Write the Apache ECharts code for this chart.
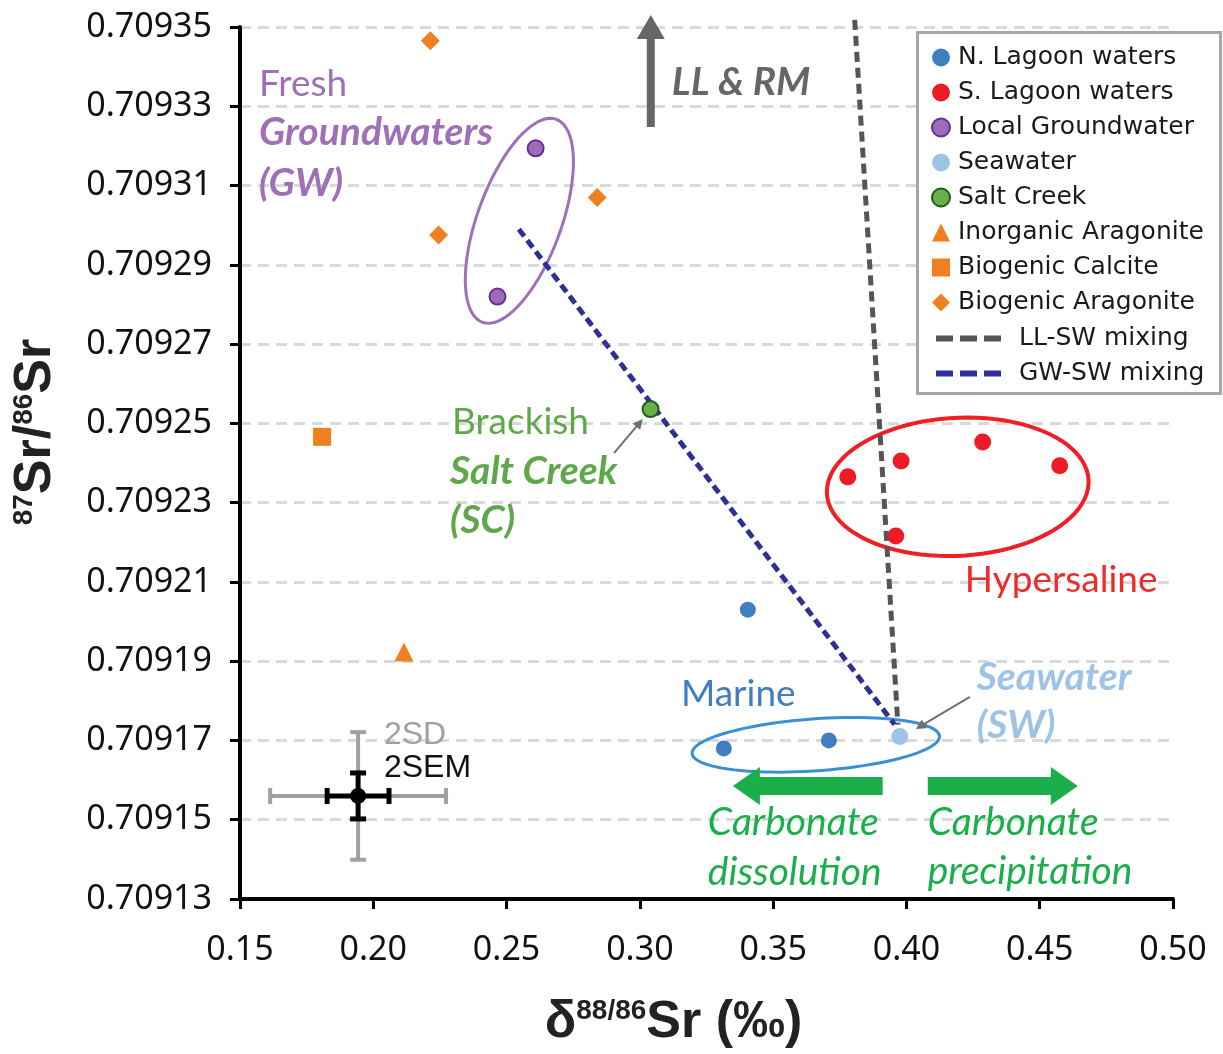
<!DOCTYPE html>
<html>
<head>
<meta charset="utf-8">
<script src="https://cdn.jsdelivr.net/npm/echarts@6/dist/echarts.min.js"></script>
<style>
  html, body { margin: 0; padding: 0; background: #ffffff; }
  #chart { width: 1223px; height: 1054px; }
</style>
</head>
<body>
<div id="chart"></div>
<script>
// Sample groups: [δ88/86Sr (‰), 87Sr/86Sr]
const nLagoon = [[0.3405, 0.709203], [0.3315, 0.709168], [0.3709, 0.709170]];
const sLagoon = [[0.3780, 0.7092365], [0.3980, 0.7092405], [0.4286, 0.7092453], [0.4575, 0.7092393], [0.3960, 0.7092216]];
const groundwater = [[0.2609, 0.7093194], [0.2466, 0.7092820]];
const seawater = [[0.3975, 0.7091710]];
const saltCreek = [[0.3040, 0.7092536]];
const inorganicAragonite = [[0.2115, 0.7091923]];
const biogenicCalcite = [[0.1808, 0.7092466]];
const biogenicAragonite = [[0.2214, 0.7093465], [0.2245, 0.7092975], [0.2840, 0.7093070]];

// Two-end-member mixing trends toward seawater
const llSwMixing = [[0.3806, 0.7093518], [0.3968, 0.7091740]];
const gwSwMixing = [[0.2546, 0.7092990], [0.3956, 0.7091740]];

// Typical analytical uncertainty (centre, 2SD and 2SEM half-widths)
const errCenter = [0.1943, 0.709156];
const err2SD = [0.0330, 0.0000161];
const err2SEM = [0.0116, 0.0000058];

// Axis ranges
const xRange = [0.15, 0.50, 0.05];
const yRange = [0.70913, 0.70935, 0.00002];

// Group outlines (centre in data units, semi-axes in px, tilt in degrees)
const outlines = [
  { center: [0.2548, 0.7093011], rx: 108, ry: 42, angle: 70, color: '#9F6FB8', width: 3 },
  { center: [0.41925, 0.7092340], rx: 131, ry: 69, angle: 3, color: '#EE2024', width: 4 },
  { center: [0.3660, 0.7091689], rx: 124, ry: 26, angle: 4, color: '#3A8FD6', width: 3 }
];

// Arrows (tail -> tip in data units)
const arrows = [
  { from: [0.3041, 0.7093248], to: [0.3041, 0.7093530], shaft: 4, head: 14, headLen: 24, color: '#666666' },
  { from: [0.3911, 0.7091585], to: [0.3349, 0.7091585], shaft: 9, head: 19, headLen: 27, color: '#1AAF4B' },
  { from: [0.4080, 0.7091585], to: [0.4643, 0.7091585], shaft: 9, head: 19, headLen: 27, color: '#1AAF4B' },
  { from: [0.2903, 0.7092425], to: [0.3011, 0.7092511], shaft: 1, head: 5, headLen: 10, color: '#707070' },
  { from: [0.4238, 0.7091810], to: [0.4035, 0.7091729], shaft: 1, head: 5, headLen: 10, color: '#707070' }
];

const REG = '37px Lato';
const BI = 'italic bold 39px Lato';
const IT = 'italic 39px Lato';
const notes = [
  { text: 'Fresh', at: [0.1571, 0.7093356], font: REG, color: '#9F6FB8' },
  { text: 'Groundwaters', at: [0.1571, 0.7093233], font: BI, color: '#9F6FB8' },
  { text: '(GW)', at: [0.1571, 0.7093106], font: BI, color: '#9F6FB8' },
  { text: 'LL & RM', at: [0.3120, 0.7093359], font: BI, color: '#666666' },
  { text: 'Brackish', at: [0.2295, 0.7092504], font: REG, color: '#5FA84A' },
  { text: 'Salt Creek', at: [0.2288, 0.7092380], font: BI, color: '#5FA84A' },
  { text: '(SC)', at: [0.2288, 0.7092254], font: BI, color: '#5FA84A' },
  { text: 'Hypersaline', at: [0.4219, 0.7092105], font: REG, color: '#EE2A2A' },
  { text: 'Marine', at: [0.3154, 0.7091817], font: REG, color: '#3F7FBF' },
  { text: 'Seawater', at: [0.4264, 0.7091860], font: BI, color: '#9DC3E6' },
  { text: '(SW)', at: [0.4264, 0.7091737], font: BI, color: '#9DC3E6' },
  { text: 'Carbonate', at: [0.3255, 0.7091492], font: IT, color: '#1AAF4B' },
  { text: 'dissolution', at: [0.3255, 0.7091366], font: IT, color: '#1AAF4B' },
  { text: 'Carbonate', at: [0.4080, 0.7091494], font: IT, color: '#1AAF4B' },
  { text: 'precipitation', at: [0.4080, 0.7091370], font: IT, color: '#1AAF4B' },
  { text: '2SD', at: [0.2040, 0.7091714], font: '32px "Liberation Sans"', color: '#A0A0A0' },
  { text: '2SEM', at: [0.2040, 0.7091631], font: '32px "Liberation Sans"', color: '#111111' }
];

const chart = echarts.init(document.getElementById('chart'), null, { renderer: 'canvas' });

const titleFont = '"Liberation Sans Narrow", "Liberation Sans", Arial, sans-serif';
const tickFont = '"Noto Sans", "Open Sans", sans-serif';
const legendFont = '"DejaVu Sans", sans-serif';

function arrowPoints(t, p, a) {
  const dx = p[0] - t[0], dy = p[1] - t[1];
  const len = Math.sqrt(dx * dx + dy * dy) || 1;
  const ux = dx / len, uy = dy / len;
  const nx = -uy, ny = ux;
  const bx = p[0] - ux * a.headLen, by = p[1] - uy * a.headLen;
  return [
    [t[0] + nx * a.shaft, t[1] + ny * a.shaft],
    [bx + nx * a.shaft, by + ny * a.shaft],
    [bx + nx * a.head, by + ny * a.head],
    [p[0], p[1]],
    [bx - nx * a.head, by - ny * a.head],
    [bx - nx * a.shaft, by - ny * a.shaft],
    [t[0] - nx * a.shaft, t[1] - ny * a.shaft]
  ];
}

function scatter(name, data, symbol, size, fill, border, z) {
  return {
    name, type: 'scatter', data, symbol, symbolSize: size, z: z || 5,
    itemStyle: { color: fill, borderColor: border || fill, borderWidth: border ? 2 : 0, opacity: 1 },
    emphasis: { disabled: true }
  };
}

const option = {
  animation: false,
  backgroundColor: '#ffffff',
  grid: { left: 240, right: 50, top: 27, bottom: 155, containLabel: false },
  xAxis: {
    type: 'value', min: xRange[0], max: xRange[1], interval: xRange[2],
    axisLine: { show: true, onZero: false, lineStyle: { color: '#000', width: 4 } },
    axisTick: { show: true, inside: false, length: 10, lineStyle: { color: '#000', width: 3 } },
    axisLabel: { margin: 34, color: '#111', fontFamily: tickFont, fontSize: 34, formatter: v => v.toFixed(2) },
    splitLine: { show: false },
    name: '{d|δ}{s|88/86}{b|Sr (‰)}',
    nameLocation: 'middle', nameGap: 98,
    nameTextStyle: {
      padding: [0, 66, 0, 0],
      rich: {
        d: { fontFamily: titleFont, fontWeight: 'bold', fontSize: 52, color: '#222' },
        s: { fontFamily: titleFont, fontWeight: 'bold', fontSize: 28, color: '#222', verticalAlign: 'top' },
        b: { fontFamily: titleFont, fontWeight: 'bold', fontSize: 52, color: '#222' }
      }
    }
  },
  yAxis: {
    type: 'value', min: yRange[0], max: yRange[1], interval: yRange[2],
    axisLine: { show: true, onZero: false, lineStyle: { color: '#000', width: 4 } },
    axisTick: { show: true, inside: false, length: 10, lineStyle: { color: '#000', width: 3 } },
    axisLabel: { margin: 28, color: '#111', fontFamily: tickFont, fontSize: 34, formatter: v => v.toFixed(5) },
    splitLine: { show: true, lineStyle: { color: '#D9D9D9', width: 3, type: [11, 7] } },
    name: '{s|87}{b|Sr/}{s|86}{b|Sr}',
    nameLocation: 'middle', nameRotate: 90, nameGap: 178,
    nameTextStyle: {
      padding: [0, 0, 0, 62],
      rich: {
        s: { fontFamily: titleFont, fontWeight: 'bold', fontSize: 28, color: '#222', verticalAlign: 'top' },
        b: { fontFamily: titleFont, fontWeight: 'bold', fontSize: 52, color: '#222' }
      }
    }
  },
  legend: [
    {
      data: ['N. Lagoon waters', 'S. Lagoon waters', 'Local Groundwater', 'Seawater', 'Salt Creek',
             'Inorganic Aragonite', 'Biogenic Calcite', 'Biogenic Aragonite'],
      orient: 'vertical', left: 926, top: 40, itemWidth: 18, itemHeight: 18, itemGap: 10,
      selectedMode: false, z: 10,
      textStyle: { fontFamily: legendFont, fontSize: 25, color: '#1a1a1a', padding: [0, 0, 0, 3] }
    },
    {
      data: ['LL-SW mixing', 'GW-SW mixing'],
      orient: 'vertical', left: 928, top: 321, itemWidth: 72, itemHeight: 14, itemGap: 10,
      selectedMode: false, z: 10,
      itemStyle: { opacity: 0 },
      lineStyle: { width: 6, type: [17, 7], opacity: 1 },
      textStyle: { fontFamily: legendFont, fontSize: 25, color: '#1a1a1a', padding: [0, 0, 0, 6] }
    }
  ],
  graphic: [
    {
      type: 'rect', left: 916, top: 31, z: 8,
      shape: { width: 303, height: 361 },
      style: { fill: '#ffffff', stroke: '#A6A6A6', lineWidth: 3 }
    }
  ],
  series: [
    {
      name: 'outlines', type: 'custom', coordinateSystem: 'cartesian2d', silent: true, z: 2,
      data: outlines.map(o => o.center),
      renderItem: (params, api) => {
        const o = outlines[params.dataIndex];
        const c = api.coord([api.value(0), api.value(1)]);
        const t = o.angle * Math.PI / 180;
        const pts = [];
        for (let i = 0; i < 90; i++) {
          const a = i / 90 * 2 * Math.PI;
          const ex = o.rx * Math.cos(a), ey = o.ry * Math.sin(a);
          pts.push([c[0] + ex * Math.cos(t) + ey * Math.sin(t), c[1] - ex * Math.sin(t) + ey * Math.cos(t)]);
        }
        return { type: 'polygon', shape: { points: pts }, style: { fill: 'none', stroke: o.color, lineWidth: o.width } };
      }
    },
    {
      name: 'arrows', type: 'custom', coordinateSystem: 'cartesian2d', silent: true, z: 3,
      data: arrows.map(a => [a.from[0], a.from[1], a.to[0], a.to[1]]),
      renderItem: (params, api) => {
        const a = arrows[params.dataIndex];
        const t = api.coord([api.value(0), api.value(1)]);
        const p = api.coord([api.value(2), api.value(3)]);
        return { type: 'polygon', shape: { points: arrowPoints(t, p, a) }, style: { fill: a.color, stroke: 'none' } };
      }
    },
    {
      name: 'LL-SW mixing', type: 'line', data: llSwMixing, symbol: 'none', clip: false, z: 4,
      lineStyle: { color: '#555555', width: 5, type: [10, 6] }, itemStyle: { color: '#555555' },
      emphasis: { disabled: true }
    },
    {
      name: 'GW-SW mixing', type: 'line', data: gwSwMixing, symbol: 'none', clip: false, z: 4,
      lineStyle: { color: '#2E3192', width: 5, type: [9, 5] }, itemStyle: { color: '#2E3192' },
      emphasis: { disabled: true }
    },
    scatter('N. Lagoon waters', nLagoon, 'circle', 16, '#3F7FBF'),
    scatter('S. Lagoon waters', sLagoon, 'circle', 17, '#ED1C24'),
    scatter('Local Groundwater', groundwater, 'circle', 16, '#9B6DB8', '#6A2E91'),
    scatter('Seawater', seawater, 'circle', 17, '#9DC3E6'),
    scatter('Salt Creek', saltCreek, 'circle', 16, '#6AAE47', '#1E5C22'),
    scatter('Inorganic Aragonite', inorganicAragonite, 'triangle', 19, '#F0801F'),
    scatter('Biogenic Calcite', biogenicCalcite, 'rect', 18, '#F0801F'),
    scatter('Biogenic Aragonite', biogenicAragonite, 'diamond', 19, '#F0801F'),
    {
      name: 'uncertainty', type: 'custom', coordinateSystem: 'cartesian2d', silent: true, z: 6,
      data: [[errCenter[0], errCenter[1]]],
      renderItem: (params, api) => {
        const c = api.coord([api.value(0), api.value(1)]);
        const bars = (half, color, w, cap) => {
          const s = api.size(half);
          const hx = s[0], hy = s[1];
          const L = (x1, y1, x2, y2) => ({ type: 'line', shape: { x1, y1, x2, y2 }, style: { stroke: color, lineWidth: w } });
          return [
            L(c[0] - hx, c[1], c[0] + hx, c[1]),
            L(c[0] - hx, c[1] - cap, c[0] - hx, c[1] + cap),
            L(c[0] + hx, c[1] - cap, c[0] + hx, c[1] + cap),
            L(c[0], c[1] - hy, c[0], c[1] + hy),
            L(c[0] - cap, c[1] - hy, c[0] + cap, c[1] - hy),
            L(c[0] - cap, c[1] + hy, c[0] + cap, c[1] + hy)
          ];
        };
        return {
          type: 'group',
          children: bars(err2SD, '#A0A0A0', 4, 8)
            .concat(bars(err2SEM, '#000000', 5, 8))
            .concat([{ type: 'circle', shape: { cx: c[0], cy: c[1], r: 8 }, style: { fill: '#000000' } }])
        };
      }
    },
    {
      name: 'notes', type: 'custom', coordinateSystem: 'cartesian2d', silent: true, z: 7,
      data: notes.map(n => n.at),
      renderItem: (params, api) => {
        const n = notes[params.dataIndex];
        const c = api.coord([api.value(0), api.value(1)]);
        return {
          type: 'text', x: c[0], y: c[1],
          style: { text: n.text, fill: n.color, font: n.font, align: 'left', verticalAlign: 'middle' }
        };
      }
    }
  ]
};

chart.setOption(option);
</script>
</body>
</html>
